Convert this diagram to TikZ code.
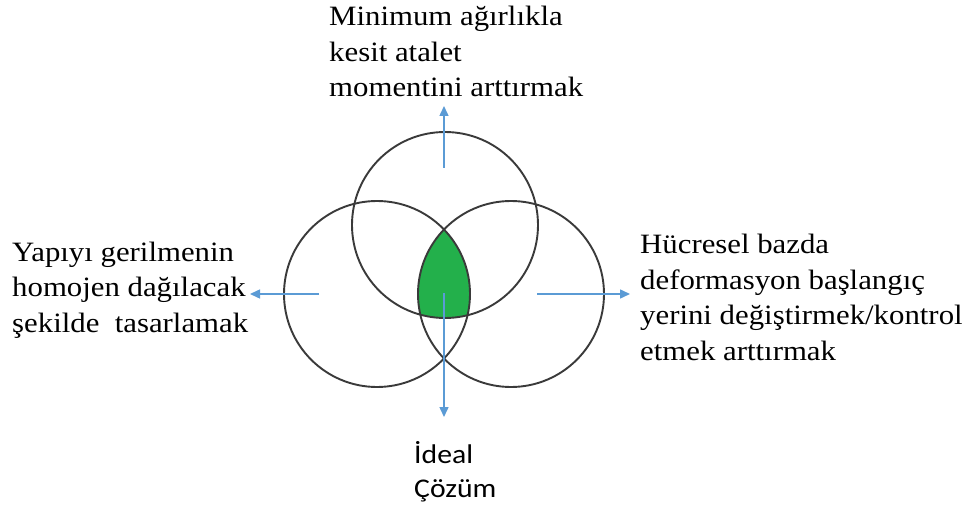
\documentclass[tikz,border=0pt]{standalone}
\usepackage{fontspec}
\setmainfont{Liberation Serif}[FakeStretch=1.1]
\newfontfamily\calib{Carlito}[FakeStretch=1.1]
\usetikzlibrary{arrows.meta}
\definecolor{ringgray}{HTML}{3A3A3A}
\definecolor{fillgreen}{HTML}{23B04B}
\definecolor{arrowblue}{HTML}{5B9BD5}
\begin{document}
\begin{tikzpicture}[x=1pt,y=-1pt,
  ring/.style={circle,draw=ringgray,line width=1.9pt,minimum size=186pt,inner sep=0pt},
  arr/.style={draw=arrowblue,line width=1.5pt,-{Triangle[width=9pt,length=10pt]}},
  lbl/.style={anchor=base west,inner sep=0pt,align=left,font=\fontsize{28}{35.5}\selectfont},
  lblsans/.style={anchor=base west,inner sep=0pt,align=left,font=\calib\fontsize{27}{34}\selectfont}]
\useasboundingbox[fill=white] (0,0) rectangle (970,508);
% green intersection
\begin{scope}
  \clip (377,294) circle[radius=93pt];
  \clip (511,294) circle[radius=93pt];
  \fill[fillgreen] (445,225) circle[radius=93pt];
\end{scope}
\node[ring] (T) at (445,225) {};
\node[ring] (L) at (377,294) {};
\node[ring] (R) at (511,294) {};
% labels (anchor = baseline of last line)
\node[lbl] (ttxt) at (329,97) {Minimum ağırlıkla\\kesit atalet\\momentini arttırmak};
\node[lbl] (ltxt) at (12,332) {Yapıyı gerilmenin\\homojen dağılacak\\şekilde\ \ tasarlamak};
\node[lbl] (rtxt) at (640,360) {Hücresel bazda\\deformasyon başlangıç\\yerini değiştirmek/kontrol\\etmek arttırmak};
\node[lblsans] (btxt) at (414,497) {İdeal\\Çözüm};
% arrows
\coordinate (ts) at (444,168); \coordinate (tt) at (444,106);
\coordinate (ls) at (319,294); \coordinate (lt) at (250,294);
\coordinate (rs) at (537,294); \coordinate (rt) at (630,294);
\coordinate (bs) at (444,293); \coordinate (bt) at (444,417);
\draw[arr] (ts) -- (tt);
\draw[arr] (ls) -- (lt);
\draw[arr] (rs) -- (rt);
\draw[arr] (bs) -- (bt);
\end{tikzpicture}
\end{document}
